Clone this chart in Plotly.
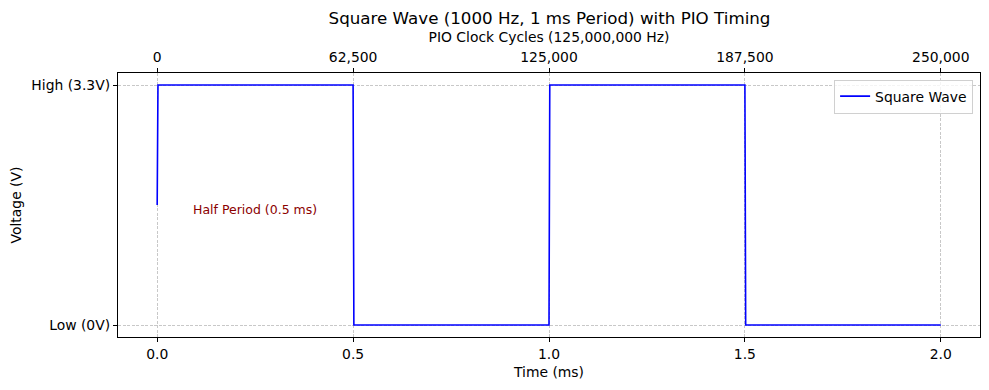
import plotly.graph_objects as go

# Data
time_ms = [0.0, 0.002, 0.5, 0.502, 1.0, 1.002, 1.5, 1.502, 2.0]
voltage = [1.65, 3.3, 3.3, 0.0, 0.0, 3.3, 3.3, 0.0, 0.0]

x_ticks = [0.0, 0.5, 1.0, 1.5, 2.0]
x_ticktext = ["0.0", "0.5", "1.0", "1.5", "2.0"]
cycle_ticks = [0, 62500, 125000, 187500, 250000]
cycle_ticktext = ["0", "62,500", "125,000", "187,500", "250,000"]
y_ticks = [0.0, 3.3]
y_ticktext = ["Low (0V)", "High (3.3V)"]

FONT = "DejaVu Sans, sans-serif"
GRID = "#c8c8c8"
FS = 13.9

fig = go.Figure()
fig.add_trace(go.Scatter(
    x=time_ms, y=voltage, mode="lines", name="Square Wave",
    line=dict(color="blue", width=1.6), showlegend=True,
))
# invisible trace to anchor top (cycles) axis
fig.add_trace(go.Scatter(
    x=[cycle_ticks[0], cycle_ticks[-1]], y=[None, None], xaxis="x2",
    mode="lines", showlegend=False, hoverinfo="skip",
))

fig.add_annotation(
    x=0.25, y=1.5, text="Half Period (0.5 ms)", showarrow=False,
    font=dict(family=FONT, size=12.5, color="darkred"), yshift=6,
)

fig.update_layout(
    width=981, height=382,
    margin=dict(l=110, r=9, t=65, b=53),
    paper_bgcolor="white", plot_bgcolor="white",
    font=dict(family=FONT, size=FS, color="black"),
    title=dict(text="Square Wave (1000 Hz, 1 ms Period) with PIO Timing",
               x=0.552, xanchor="center", y=0.974, yanchor="middle",
               font=dict(family=FONT, size=16.7, color="black")),
    xaxis=dict(
        range=[-0.1, 2.1], tickvals=x_ticks, ticktext=x_ticktext,
        showline=True, linecolor="black", linewidth=1.2, mirror=True,
        ticks="outside", ticklen=4, tickcolor="black",
        showgrid=True, gridcolor=GRID, griddash="3px,1.5px", gridwidth=0.8,
        zeroline=False, automargin=False,
        title=dict(text="Time (ms)", font=dict(size=FS), standoff=6),
        tickfont=dict(size=FS),
    ),
    xaxis2=dict(
        range=[-12500, 262500], overlaying="x", side="top", anchor="y",
        tickvals=cycle_ticks, ticktext=cycle_ticktext,
        ticks="outside", ticklen=4, tickcolor="black",
        showgrid=False, zeroline=False, showline=False, automargin=False,
        title=dict(text="PIO Clock Cycles (125,000,000 Hz)", font=dict(size=FS), standoff=3),
        tickfont=dict(size=FS),
    ),
    yaxis=dict(
        range=[-0.165, 3.465], tickvals=y_ticks, ticktext=y_ticktext,
        showline=True, linecolor="black", linewidth=1.2, mirror=True,
        ticks="outside", ticklen=4, tickcolor="black",
        showgrid=True, gridcolor=GRID, griddash="3px,1.5px", gridwidth=0.8,
        zeroline=False, automargin=False,
        title=dict(text="Voltage (V)", font=dict(size=FS), standoff=10),
        tickfont=dict(size=FS),
    ),
    legend=dict(
        x=0.992, y=0.975, xanchor="right", yanchor="top",
        bgcolor="rgba(255,255,255,0.8)", bordercolor="#d0d0d0", borderwidth=1,
        font=dict(size=FS), tracegroupgap=0,
    ),
)

fig.write_html("out.html")
